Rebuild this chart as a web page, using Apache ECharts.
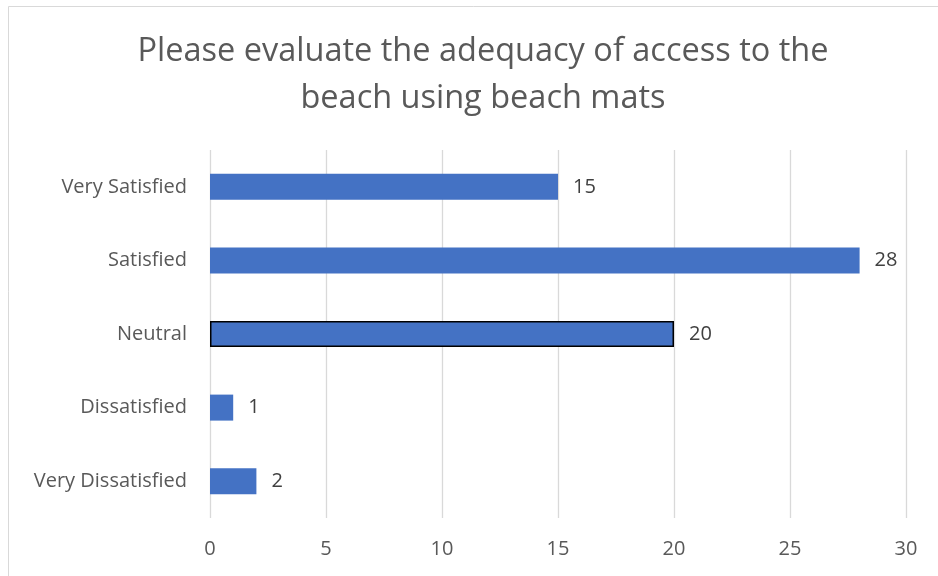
<!DOCTYPE html>
<html>
<head>
<meta charset="utf-8">
<script src="https://cdn.jsdelivr.net/npm/echarts@6/dist/echarts.min.js"></script>
<style>
  html, body { margin: 0; padding: 0; background: #fff; }
  #chart { width: 938px; height: 576px; }
</style>
</head>
<body>
<div id="chart"></div>
<script>
// Survey responses, listed top to bottom as shown on the chart
const categories = ['Very Satisfied', 'Satisfied', 'Neutral', 'Dissatisfied', 'Very Dissatisfied'];
const responses = [15, 28, 20, 1, 2];
const axisTicks = [0, 5, 10, 15, 20, 25, 30];
const highlighted = 'Neutral';

const chart = echarts.init(document.getElementById('chart'), null, { renderer: 'canvas' });
const textColor = '#595959';
const fontFamily = "'Open Sans', 'Noto Sans', sans-serif";

const barData = responses.map((v, i) => ({
  value: v,
  itemStyle: categories[i] === highlighted
    ? { color: '#4472C4', borderColor: '#000', borderWidth: 1.5 }
    : { color: '#4472C4' }
}));

chart.setOption({
  backgroundColor: '#fff',
  animation: false,
  title: {
    text: 'Please evaluate the adequacy of access to the\nbeach using beach mats',
    left: 478,
    textAlign: 'center',
    top: 23,
    textStyle: {
      color: textColor,
      fontFamily: fontFamily,
      fontWeight: 'normal',
      fontSize: 32.5,
      lineHeight: 47
    }
  },
  graphic: [{
    type: 'rect',
    shape: { x: 8.5, y: 6.5, width: 960, height: 600 },
    style: { fill: 'none', stroke: '#d9d9d9', lineWidth: 1 },
    silent: true
  }],
  grid: { left: 210, right: 32, top: 150, bottom: 58 },
  xAxis: {
    type: 'value',
    min: axisTicks[0],
    max: axisTicks[axisTicks.length - 1],
    interval: axisTicks[1] - axisTicks[0],
    axisLine: { show: false },
    axisTick: { show: false },
    splitLine: { show: true, lineStyle: { color: '#d9d9d9', width: 1.3 } },
    axisLabel: {
      color: textColor, fontFamily: fontFamily, fontSize: 20, margin: 21
    }
  },
  yAxis: {
    type: 'category',
    data: categories,
    inverse: true,
    axisLine: { show: false },
    axisTick: { show: false },
    axisLabel: {
      color: textColor, fontFamily: fontFamily, fontSize: 20, margin: 23
    }
  },
  series: [{
    type: 'bar',
    data: barData,
    barWidth: 26,
    label: {
      show: true,
      position: 'right',
      distance: 15,
      color: '#404040',
      fontFamily: fontFamily,
      fontSize: 20
    }
  }]
});
</script>
</body>
</html>
